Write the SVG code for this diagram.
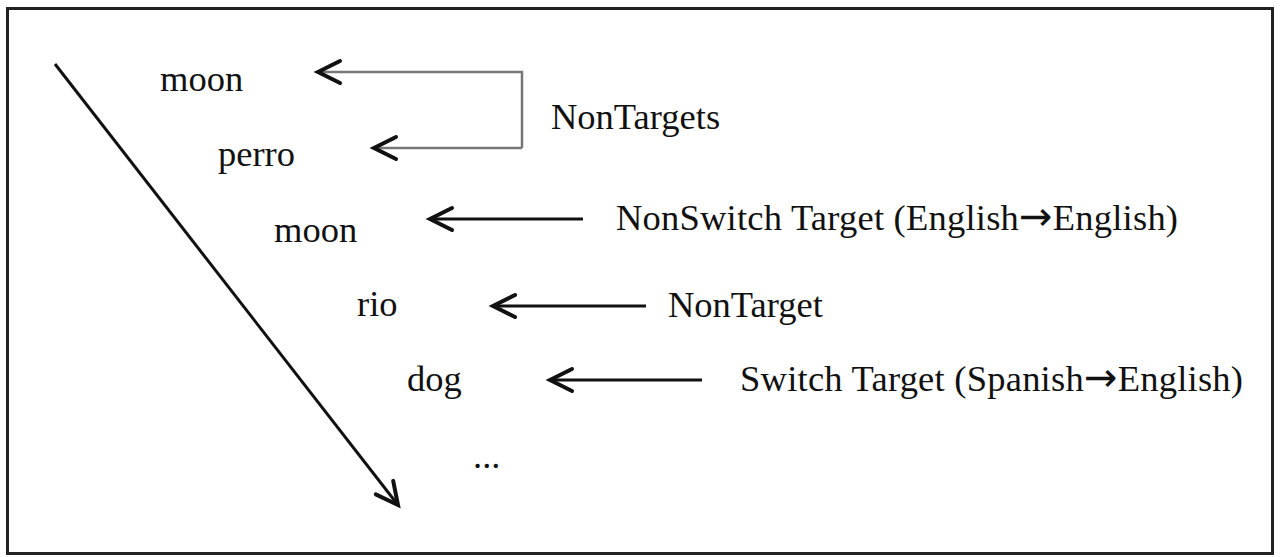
<svg xmlns="http://www.w3.org/2000/svg" width="1280" height="557" viewBox="0 0 1280 557">
<style>
text{font-family:"Liberation Serif","Times New Roman",serif;font-size:36.5px;fill:#111}
.ar{font-family:"DejaVu Sans",sans-serif;font-size:40px}
.ln{fill:none;stroke:#111;stroke-width:3}
.gr{fill:none;stroke:#777;stroke-width:2.5}
</style>
<defs>
<marker id="ah" markerUnits="userSpaceOnUse" markerWidth="40" markerHeight="40" viewBox="-30 -20 40 40" refX="0" refY="0" orient="auto">
<path d="M-22,-11 L0,0 L-22,11" fill="none" stroke="#111" stroke-width="4" stroke-linecap="round" stroke-linejoin="miter"/>
</marker>
</defs>
<rect x="0" y="0" width="1280" height="557" fill="#fff"/>
<rect id="frame" x="7.5" y="8.5" width="1265" height="545" fill="none" stroke="#222" stroke-width="3"/>
<g id="connectors">
<line class="ln" x1="55" y1="64" x2="398" y2="505" marker-end="url(#ah)"/>
<path class="gr" d="M522,148 L522,72 L318,72" marker-end="url(#ah)"/>
<path class="gr" d="M522,148 L374,148" marker-end="url(#ah)"/>
<line class="ln" x1="583" y1="219" x2="430" y2="219" marker-end="url(#ah)"/>
<line class="ln" x1="646" y1="306" x2="493" y2="306" marker-end="url(#ah)"/>
<line class="ln" x1="702" y1="380" x2="550" y2="380" marker-end="url(#ah)"/>
</g>
<g id="w1"><text x="160" y="91">moon</text></g>
<g id="w2"><text x="218" y="166">perro</text></g>
<g id="w3"><text x="274" y="242">moon</text></g>
<g id="w4"><text x="357" y="316">rio</text></g>
<g id="w5"><text x="407" y="391">dog</text></g>
<g id="w6"><text x="473" y="468">...</text></g>
<g id="l1"><text x="551" y="129">NonTargets</text></g>
<g id="l2"><text x="616" y="230" textLength="562" lengthAdjust="spacing">NonSwitch Target (English<tspan class="ar">→</tspan>English)</text></g>
<g id="l3"><text x="668" y="317">NonTarget</text></g>
<g id="l4"><text x="740" y="391" textLength="503" lengthAdjust="spacing">Switch Target (Spanish<tspan class="ar">→</tspan>English)</text></g>
</svg>
